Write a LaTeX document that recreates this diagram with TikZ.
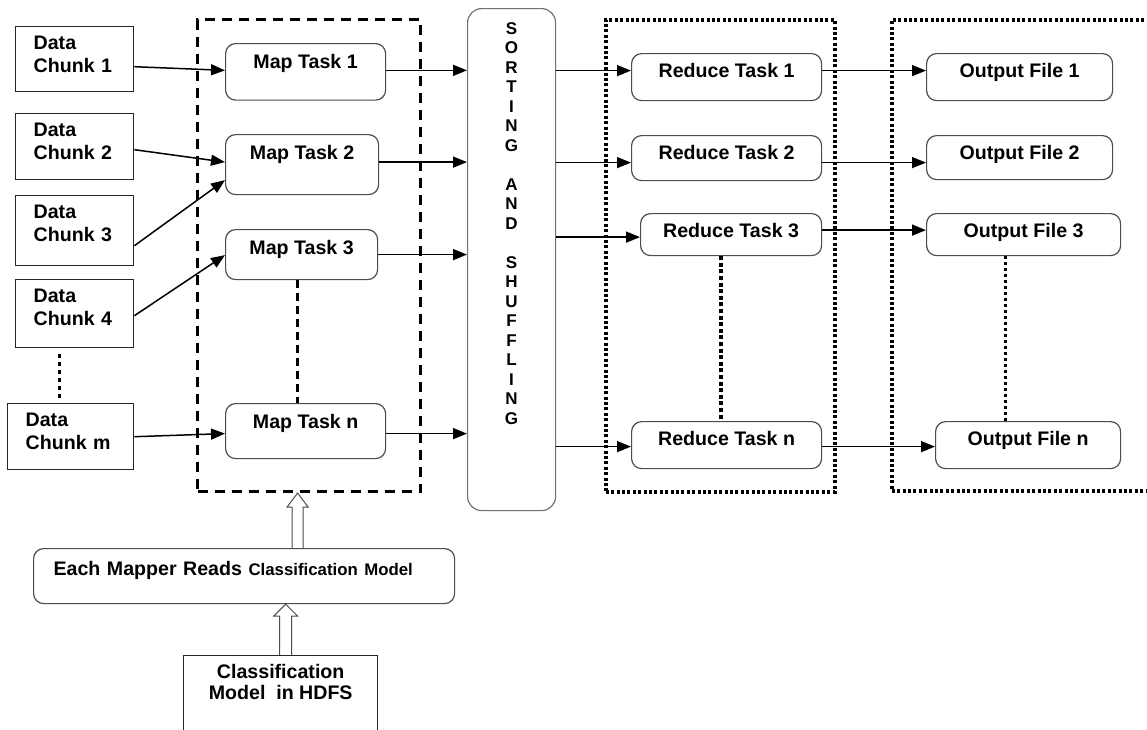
\documentclass[tikz,border=0pt]{standalone}
\usepackage{fontspec}
\setmainfont{Liberation Sans}
\usetikzlibrary{arrows.meta, calc}

\begin{document}
\begin{tikzpicture}[
    x=0.5pt, y=-0.5pt,
    every node/.style={font=\fontsize{9.8}{11.5}\selectfont\bfseries},
    chunk/.style={draw=black!85, line width=0.7pt, align=left, text width=41pt,
        inner xsep=9pt, inner ysep=0pt, anchor=north west, text height=11.5pt},
    task/.style={draw=black!70, line width=0.6pt, rounded corners=5pt,
        inner sep=0pt, anchor=north west, text height=12.5pt},
    sortbox/.style={draw=black!55, line width=0.6pt, rounded corners=7pt,
        anchor=north west, minimum width=44pt, minimum height=251pt},
    sorttext/.style={font=\fontsize{8.5}{9.75}\selectfont\bfseries,
        align=center, inner sep=0pt, anchor=north},
    mapgroup/.style={draw, line width=1.5pt, dash pattern=on 5pt off 3.5pt,
        anchor=north west},
    redgroup/.style={draw, line width=1.8pt, dash pattern=on 1.5pt off 1.2pt,
        anchor=north west},
    flow/.style={-{Triangle[length=7pt, width=5.5pt]}, line width=0.75pt},
    hollow/.style={draw=black!70, line width=0.5pt, line join=miter}
]
\useasboundingbox (0,0) rectangle (1147,729);

% groups
\node[mapgroup, minimum width=111.5pt, minimum height=236pt] (mapbox) at (196,18) {};
\node[redgroup, minimum width=114.5pt, minimum height=236pt] (redbox) at (604,18) {};
\node[redgroup, minimum width=160pt, minimum height=235.5pt] (outbox) at (890,18) {};

% input chunks
\node[chunk, text depth=21pt] (dc1) at (15,26) {Data\\Chunk 1};
\node[chunk, text depth=21.5pt] (dc2) at (15,113) {Data\\Chunk 2};
\node[chunk, text depth=23.5pt] (dc3) at (15,195) {Data\\Chunk 3};
\node[chunk, text depth=22.5pt] (dc4) at (15,279) {Data\\Chunk 4};
\node[chunk, text depth=21.5pt, text width=45pt] (dcm) at (7,403) {Data\\Chunk m};

% map tasks
\node[task, minimum width=80pt, text depth=15.75pt] (mt1) at (225,43) {Map Task 1};
\node[task, minimum width=76.5pt, text depth=17.5pt] (mt2) at (225,134) {Map Task 2};
\node[task, minimum width=76pt, text depth=12.5pt] (mt3) at (225,229) {Map Task 3};
\node[task, minimum width=80pt, text depth=15pt] (mtn) at (225,403) {Map Task n};

% sorting and shuffling
\node[sortbox] (sort) at (467,8) {};
\node[sorttext] (sorttxt) at ([yshift=-7pt]sort.north)
    {S\\O\\R\\T\\I\\N\\G\\[9.75pt]A\\N\\D\\[9.75pt]S\\H\\U\\F\\F\\L\\I\\N\\G};

% reduce tasks
\node[task, minimum width=95pt, text height=12pt, text depth=11.5pt] (rt1) at (631,53) {Reduce Task 1};
\node[task, minimum width=95pt, text height=12pt, text depth=10.5pt] (rt2) at (631,135) {Reduce Task 2};
\node[task, minimum width=90.5pt, text height=12pt, text depth=9pt] (rt3) at (640,213) {Reduce Task 3};
\node[task, minimum width=95pt, text height=12pt, text depth=11.5pt] (rtn) at (631,421) {Reduce Task n};

% output files
\node[task, minimum width=93pt, text height=12pt, text depth=11.5pt] (of1) at (926,53) {Output File 1};
\node[task, minimum width=93pt, text height=12pt, text depth=10pt] (of2) at (926,135) {Output File 2};
\node[task, minimum width=97pt, text height=12pt, text depth=9pt] (of3) at (926,213) {Output File 3};
\node[task, minimum width=92.5pt, text height=12pt, text depth=11.5pt] (ofn) at (935,421) {Output File n};

% model
\node[task, text height=13.5pt, text depth=14pt, text width=190.5pt, inner xsep=10pt,
    align=left] (mapper) at (33,548)
    {Each Mapper Reads {\fontsize{8.4}{10}\selectfont Classification Model}};
\node[draw=black!85, line width=0.7pt, anchor=north west, minimum width=97pt, inner sep=0pt,
    text height=22pt, text depth=25pt, align=center,
    font=\fontsize{9.8}{10.5}\selectfont\bfseries] (hdfs) at (183,655)
    {Classification\\Model~~in HDFS};

% chunks to mappers
\draw[flow] ([yshift=-3.75pt]dc1.east) -- ([yshift=0.75pt]mt1.west);
\draw[flow] ([yshift=-1.5pt]dc2.east) -- ([yshift=1.25pt]mt2.west);
\draw[flow] ([yshift=-7.5pt]dc3.east) -- ([yshift=-7.75pt]mt2.west);
\draw[flow] ([yshift=-1pt]dc4.east) -- ([yshift=-0.25pt]mt3.west);
\draw[flow] (dcm.east) -- ([yshift=-1.25pt]mtn.west);

% mappers to sort
\foreach \t/\s in {mt1/0.75pt, mt2/1.25pt, mt3/0pt, mtn/-1.25pt}
    \draw[flow] ([yshift=\s]\t.east) -- ([yshift=\s]\t.east -| sort.west);

% sort to reducers, reducers to outputs
\foreach \r/\s in {rt1/3.25pt, rt2/-2.25pt, rt3/-1.25pt, rtn/-0.75pt}
    \draw[flow] ([yshift=\s]\r.west -| sort.east) -- ([yshift=\s]\r.west);
\foreach \r/\o/\s in {rt1/of1/3.25pt, rt2/of2/-2.25pt, rt3/of3/2.25pt, rtn/ofn/-0.75pt}
    \draw[flow] ([yshift=\s]\r.east) -- ([yshift=\s]\r.east -| \o.west);

% continuation marks
\draw[line width=1.5pt, dash pattern=on 2pt off 2pt] ([xshift=-7.5pt, yshift=-3pt]dc4.south)
    -- ([xshift=-7.5pt, yshift=1.5pt]dc4.south |- dcm.north);
\draw[line width=1.5pt, dash pattern=on 4pt off 2.5pt] ([xshift=-2pt]mt3.south)
    -- ([xshift=-2pt]mt3.south |- mtn.north);
\draw[line width=2pt, dash pattern=on 2pt off 1.3pt] ([xshift=-5.25pt]rt3.south)
    -- ([xshift=-5.25pt]rt3.south |- rtn.north);
\draw[line width=1.3pt, dash pattern=on 1.5pt off 1.5pt] ([xshift=-9pt]of3.south)
    -- ([xshift=-9pt]of3.south |- ofn.north);

% hollow arrows
\draw[hollow] let \p1=([xshift=2.5pt]hdfs.north), \p2=(mapper.south) in
    (\x1-3pt,\y1) -- (\x1-3pt,\y2-6pt) -- (\x1-6pt,\y2-6pt) -- (\x1,\y2)
    -- (\x1+6pt,\y2-6pt) -- (\x1+3pt,\y2-6pt) -- (\x1+3pt,\y1);
\draw[hollow] let \p1=([xshift=26.75pt]mapper.north), \p2=(mapbox.south) in
    (\x1-2.75pt,\y1) -- (\x1-2.75pt,\y2-7pt) -- (\x1-5.25pt,\y2-7pt) -- (\x1,\y2)
    -- (\x1+5.25pt,\y2-7pt) -- (\x1+2.75pt,\y2-7pt) -- (\x1+2.75pt,\y1);
\end{tikzpicture}
\end{document}
